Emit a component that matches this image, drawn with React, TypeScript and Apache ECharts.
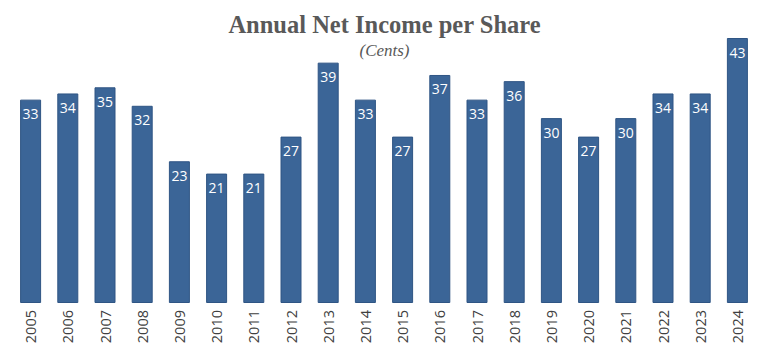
import React, { useEffect, useRef } from "react";
import * as echarts from "echarts";

const years = ["2005","2006","2007","2008","2009","2010","2011","2012","2013","2014","2015","2016","2017","2018","2019","2020","2021","2022","2023","2024"];
const values = [33,34,35,32,23,21,21,27,39,33,27,37,33,36,30,27,30,34,34,43];
const titleText = "Annual Net Income per Share";
const subtitleText = "(Cents)";

export default function App() {
  const ref = useRef<HTMLDivElement>(null);
  useEffect(() => {
    if (!ref.current) return;
    const chart = echarts.init(ref.current, null, { renderer: "svg" });
    chart.setOption({
      animation: false,
      title: {
        text: titleText,
        subtext: subtitleText,
        left: "center",
        top: 7,
        padding: [5, 0, 5, 8],
        itemGap: 5,
        textStyle: { fontFamily: "Liberation Serif", fontWeight: "bold", fontSize: 24.5, color: "#595959" },
        subtextStyle: { fontFamily: "Liberation Serif", fontStyle: "italic", fontSize: 17, color: "#595959" },
      },
      grid: { left: 12, right: 13, top: 38, bottom: 58, containLabel: false },
      xAxis: {
        type: "category",
        data: years,
        axisLine: { show: false },
        axisTick: { show: false },
        axisLabel: { rotate: 90, margin: 7, fontFamily: "Open Sans", fontSize: 14.5, color: "#404040" },
      },
      yAxis: { type: "value", min: 0, max: 43, show: false, splitLine: { show: false } },
      series: [{
        type: "bar",
        data: values,
        barWidth: 21,
        itemStyle: { color: "#3b6597", borderColor: "#2f5584", borderWidth: 1 },
        label: { show: true, position: "insideTop", distance: 7, color: "#ffffff", fontFamily: "Open Sans", fontSize: 14 },
      }],
    });
    return () => chart.dispose();
  }, []);
  return <div ref={ref} style={{ width: 769, height: 361, position: "absolute", left: 0, top: 0 }} />;
}
